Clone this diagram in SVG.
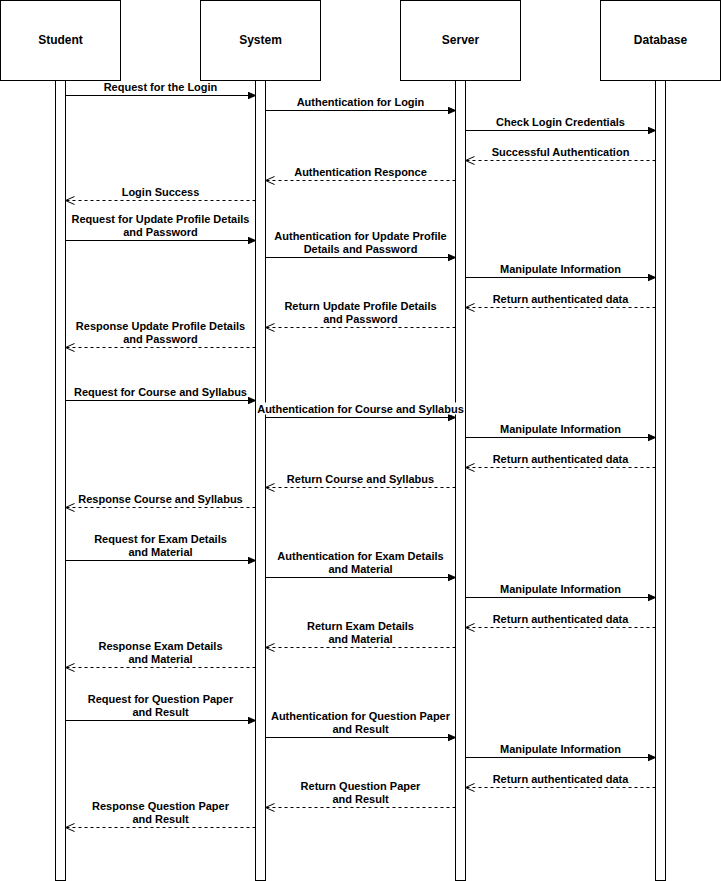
<svg xmlns="http://www.w3.org/2000/svg" width="721" height="881" viewBox="0 0 721 881">
<style>
.box{fill:#fff;stroke:#000;stroke-width:1}
.bar{fill:#fff;stroke:#000;stroke-width:1}
.hd{font-family:"Liberation Sans",Arial,sans-serif;font-size:12px;font-weight:bold;text-anchor:middle;fill:#000}
.lbl{font-family:"Liberation Sans",Arial,sans-serif;font-size:11px;font-weight:bold;text-anchor:middle;fill:#000}
.msg{stroke:#000;stroke-width:1;fill:none;marker-end:url(#block)}
.ret{stroke:#000;stroke-width:1;fill:none;stroke-dasharray:3 3;marker-end:url(#open)}
</style>
<defs>
<marker id="block" markerUnits="userSpaceOnUse" markerWidth="10" markerHeight="10" refX="8" refY="4" orient="auto">
<path d="M0,0.5 L8,4 L0,7.5 Z" fill="#000" stroke="#000" stroke-width="1"/>
</marker>
<marker id="open" markerUnits="userSpaceOnUse" markerWidth="12" markerHeight="10" refX="9" refY="4.5" orient="auto">
<path d="M0,0.5 L9,4.5 L0,8.5" fill="none" stroke="#000" stroke-width="1"/>
</marker>
</defs>
<g transform="translate(0.5,0.5)">
<g id="student">
<rect class="box" x="0" y="0" width="120" height="80"/>
<text class="hd" x="60" y="43.5">Student</text>
<rect class="bar" x="55" y="80" width="10" height="800"/>
</g>
<g id="system">
<rect class="box" x="200" y="0" width="120" height="80"/>
<text class="hd" x="260" y="43.5">System</text>
<rect class="bar" x="255" y="80" width="10" height="800"/>
</g>
<g id="server">
<rect class="box" x="400" y="0" width="120" height="80"/>
<text class="hd" x="460" y="43.5">Server</text>
<rect class="bar" x="455" y="80" width="10" height="800"/>
</g>
<g id="database">
<rect class="box" x="600" y="0" width="120" height="80"/>
<text class="hd" x="660" y="43.5">Database</text>
<rect class="bar" x="655" y="80" width="10" height="800"/>
</g>
<g id="connectors">
<line class="msg" x1="65" y1="95" x2="255" y2="95"/>
<text class="lbl" x="160" y="90.5">Request for the Login</text>
<line class="msg" x1="265" y1="110" x2="455" y2="110"/>
<text class="lbl" x="360" y="105.5">Authentication for Login</text>
<line class="msg" x1="465" y1="130" x2="655" y2="130"/>
<text class="lbl" x="560" y="125.5">Check Login Credentials</text>
<line class="ret" x1="655" y1="160" x2="465" y2="160"/>
<text class="lbl" x="560" y="155.5">Successful Authentication</text>
<line class="ret" x1="455" y1="180" x2="265" y2="180"/>
<text class="lbl" x="360" y="175.5">Authentication Responce</text>
<line class="ret" x1="255" y1="200" x2="65" y2="200"/>
<text class="lbl" x="160" y="195.5">Login Success</text>

<line class="msg" x1="65" y1="240" x2="255" y2="240"/>
<text class="lbl" x="160" y="222.5">Request for Update Profile Details</text>
<text class="lbl" x="160" y="235.5">and Password</text>
<line class="msg" x1="265" y1="257" x2="455" y2="257"/>
<text class="lbl" x="360" y="239.5">Authentication for Update Profile</text>
<text class="lbl" x="360" y="252.5">Details and Password</text>
<line class="msg" x1="465" y1="277" x2="655" y2="277"/>
<text class="lbl" x="560" y="272.5">Manipulate Information</text>
<line class="ret" x1="655" y1="307" x2="465" y2="307"/>
<text class="lbl" x="560" y="302.5">Return authenticated data</text>
<line class="ret" x1="455" y1="327" x2="265" y2="327"/>
<text class="lbl" x="360" y="309.5">Return Update Profile Details</text>
<text class="lbl" x="360" y="322.5">and Password</text>
<line class="ret" x1="255" y1="347" x2="65" y2="347"/>
<text class="lbl" x="160" y="329.5">Response Update Profile Details</text>
<text class="lbl" x="160" y="342.5">and Password</text>

<line class="msg" x1="65" y1="400" x2="255" y2="400"/>
<text class="lbl" x="160" y="395.5">Request for Course and Syllabus</text>
<line class="msg" x1="265" y1="417" x2="455" y2="417"/>
<rect x="257" y="402" width="206" height="12" fill="#fff"/>
<text class="lbl" x="360" y="412.5">Authentication for Course and Syllabus</text>
<line class="msg" x1="465" y1="437" x2="655" y2="437"/>
<text class="lbl" x="560" y="432.5">Manipulate Information</text>
<line class="ret" x1="655" y1="467" x2="465" y2="467"/>
<text class="lbl" x="560" y="462.5">Return authenticated data</text>
<line class="ret" x1="455" y1="487" x2="265" y2="487"/>
<text class="lbl" x="360" y="482.5">Return Course and Syllabus</text>
<line class="ret" x1="255" y1="507" x2="65" y2="507"/>
<text class="lbl" x="160" y="502.5">Response Course and Syllabus</text>

<line class="msg" x1="65" y1="560" x2="255" y2="560"/>
<text class="lbl" x="160" y="542.5">Request for Exam Details</text>
<text class="lbl" x="160" y="555.5">and Material</text>
<line class="msg" x1="265" y1="577" x2="455" y2="577"/>
<text class="lbl" x="360" y="559.5">Authentication for Exam Details</text>
<text class="lbl" x="360" y="572.5">and Material</text>
<line class="msg" x1="465" y1="597" x2="655" y2="597"/>
<text class="lbl" x="560" y="592.5">Manipulate Information</text>
<line class="ret" x1="655" y1="627" x2="465" y2="627"/>
<text class="lbl" x="560" y="622.5">Return authenticated data</text>
<line class="ret" x1="455" y1="647" x2="265" y2="647"/>
<text class="lbl" x="360" y="629.5">Return Exam Details</text>
<text class="lbl" x="360" y="642.5">and Material</text>
<line class="ret" x1="255" y1="667" x2="65" y2="667"/>
<text class="lbl" x="160" y="649.5">Response Exam Details</text>
<text class="lbl" x="160" y="662.5">and Material</text>

<line class="msg" x1="65" y1="720" x2="255" y2="720"/>
<text class="lbl" x="160" y="702.5">Request for Question Paper</text>
<text class="lbl" x="160" y="715.5">and Result</text>
<line class="msg" x1="265" y1="737" x2="455" y2="737"/>
<text class="lbl" x="360" y="719.5">Authentication for Question Paper</text>
<text class="lbl" x="360" y="732.5">and Result</text>
<line class="msg" x1="465" y1="757" x2="655" y2="757"/>
<text class="lbl" x="560" y="752.5">Manipulate Information</text>
<line class="ret" x1="655" y1="787" x2="465" y2="787"/>
<text class="lbl" x="560" y="782.5">Return authenticated data</text>
<line class="ret" x1="455" y1="807" x2="265" y2="807"/>
<text class="lbl" x="360" y="789.5">Return Question Paper</text>
<text class="lbl" x="360" y="802.5">and Result</text>
<line class="ret" x1="255" y1="827" x2="65" y2="827"/>
<text class="lbl" x="160" y="809.5">Response Question Paper</text>
<text class="lbl" x="160" y="822.5">and Result</text>
</g>
</g>
</svg>
